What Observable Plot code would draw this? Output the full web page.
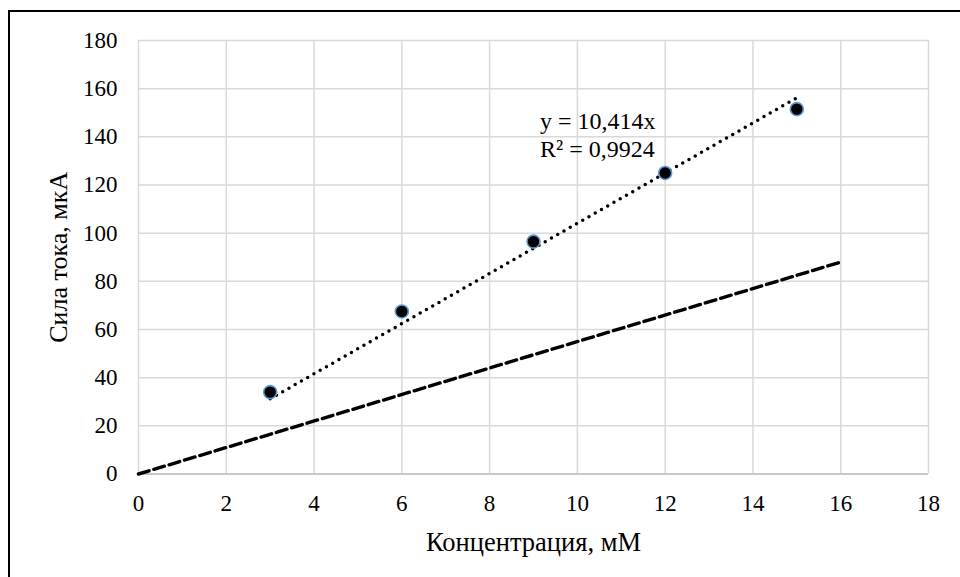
<!DOCTYPE html>
<html>
<head>
<meta charset="utf-8">
<script src="https://cdn.jsdelivr.net/npm/d3@7"></script>
<script src="https://cdn.jsdelivr.net/npm/@observablehq/plot@0.6"></script>
<style>
  html, body { margin: 0; padding: 0; background: #fff; overflow: hidden; }
  #wrap { position: relative; width: 960px; height: 577px; overflow: hidden; }
  #frame { position: absolute; left: 8px; top: 10px; width: 1000px; height: 600px;
           border-top: 2.5px solid #000; border-left: 2.5px solid #000; pointer-events: none; }
  #chart svg { display: block; }
  #chart svg, #chart svg text { font-family: "Liberation Serif", "Times New Roman", "DejaVu Serif", serif !important; }
</style>
</head>
<body>
<div id="wrap"><div id="chart"></div><div id="frame"></div></div>
<script>
// Measured data points
const concentration = [3, 6, 9, 12, 15];
const current = [34, 67.5, 96.5, 125, 151.5];
// Linear trendline (y = 10,414x) over the data range
const trendX = [3, 15];
const trendY = [31.2, 156.2];
// Dashed reference line
const refX = [0, 16];
const refY = [0, 88];
// Tick values
const xTicks = [0, 2, 4, 6, 8, 10, 12, 14, 16, 18];
const yTicks = [0, 20, 40, 60, 80, 100, 120, 140, 160, 180];
// Texts
const xTitle = ["Концентрация, мМ"];
const yTitle = ["Сила тока, мкА"];
const annLines = ["y = 10,414x", "R² = 0,9924"];
const annX = [9.15, 9.15];
const annY = [146.5, 134.8];

const points = concentration.map((c, i) => ({x: c, y: current[i]}));
const trend = trendX.map((x, i) => ({x, y: trendY[i]}));
const ref = refX.map((x, i) => ({x, y: refY[i]}));
const ann = annLines.map((t, i) => ({t, x: annX[i], y: annY[i]}));

const chart = Plot.plot({
  width: 960,
  height: 577,
  marginLeft: 138,
  marginRight: 32,
  marginTop: 40,
  marginBottom: 103.5,
  style: {fontFamily: "Liberation Serif", color: "#000", background: "transparent"},
  x: {domain: [0, 18], ticks: xTicks, axis: null},
  y: {domain: [0, 180], ticks: yTicks, axis: null},
  marks: [
    Plot.gridX(xTicks, {stroke: "#d9d9d9", strokeOpacity: 1, strokeWidth: 1.5}),
    Plot.gridY(yTicks, {stroke: "#d9d9d9", strokeOpacity: 1, strokeWidth: 1.5}),
    Plot.ruleY([0], {stroke: "#bfbfbf", strokeWidth: 1.5}),
    // tick labels placed through the x / y scales
    Plot.text(xTicks, {x: d => d, frameAnchor: "bottom", dy: 20.5, lineAnchor: "top", textAnchor: "middle", fontSize: 23, fill: "#000"}),
    Plot.text(yTicks, {y: d => d, frameAnchor: "left", dx: -21, lineAnchor: "middle", textAnchor: "end", fontSize: 23, fill: "#000"}),
    Plot.line(ref, {x: "x", y: "y", stroke: "#000", strokeWidth: 3.4, strokeDasharray: "11,5"}),
    Plot.line(trend, {x: "x", y: "y", stroke: "#000", strokeWidth: 3.5, strokeDasharray: "0,7.2", strokeLinecap: "round"}),
    Plot.dot(points, {x: "x", y: "y", r: 6.5, fill: "#000", stroke: "#5b9bd5", strokeWidth: 1.6}),
    Plot.text(ann, {x: "x", y: "y", text: "t", textAnchor: "start", lineAnchor: "middle", fontSize: 24, fill: "#000"}),
    Plot.text(xTitle, {text: d => d, frameAnchor: "bottom", dy: 68.5, textAnchor: "middle", lineAnchor: "middle", fontSize: 26.5, fill: "#000"}),
    Plot.text(yTitle, {text: d => d, frameAnchor: "left", dx: -80, textAnchor: "middle", lineAnchor: "middle", rotate: -90, fontSize: 26, fill: "#000"})
  ]
});
document.getElementById("chart").appendChild(chart);
</script>
</body>
</html>
